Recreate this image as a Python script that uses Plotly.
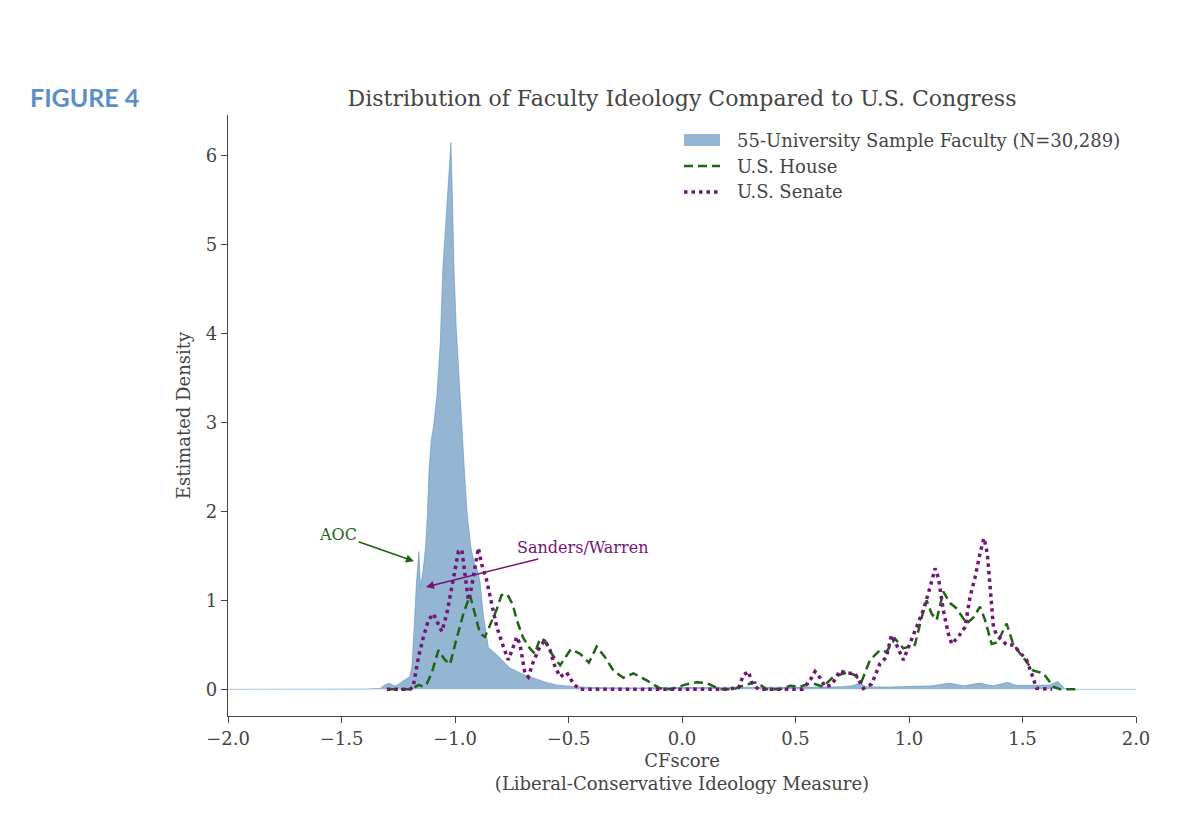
import plotly.graph_objects as go

# faculty density (filled)
fac_x = [-2.0, -1.6, -1.4, -1.33, -1.31, -1.29, -1.275, -1.26, -1.245, -1.23, -1.215, -1.2,
         -1.19, -1.18, -1.17, -1.159, -1.152, -1.14, -1.13, -1.122, -1.115, -1.105, -1.095,
         -1.08, -1.065, -1.054, -1.045, -1.035, -1.025, -1.018, -1.012, -1.004, -0.995,
         -0.985, -0.975, -0.965, -0.956, -0.946, -0.93, -0.915, -0.902, -0.89, -0.875,
         -0.853, -0.816, -0.758, -0.70, -0.655, -0.60, -0.552, -0.47, -0.39, -0.3, -0.2,
         -0.1, 0.0, 0.1, 0.2, 0.3, 0.4, 0.5, 0.6, 0.7, 0.75, 0.784, 0.81, 0.9, 1.0, 1.1,
         1.18, 1.24, 1.31, 1.37, 1.436, 1.47, 1.55, 1.62, 1.656, 1.685, 1.75, 1.85, 2.0]
fac_y = [0.0, 0.0, 0.003, 0.01, 0.05, 0.07, 0.05, 0.04, 0.07, 0.1, 0.12, 0.14,
         0.25, 0.7, 1.2, 1.55, 1.15, 1.35, 1.6, 1.95, 2.45, 2.8, 2.95,
         3.3, 3.9, 4.72, 5.1, 5.5, 5.9, 6.15, 5.6, 4.72, 4.1,
         3.6, 3.1, 2.75, 2.35, 1.97, 1.6, 1.42, 1.35, 1.22, 0.84,
         0.47, 0.39, 0.24, 0.17, 0.13, 0.08, 0.05, 0.03, 0.02, 0.015, 0.015,
         0.02, 0.02, 0.02, 0.02, 0.02, 0.02, 0.02, 0.025, 0.03, 0.04, 0.07, 0.03, 0.025, 0.03, 0.04,
         0.07, 0.04, 0.07, 0.04, 0.08, 0.045, 0.045, 0.05, 0.09, 0.01, 0.0, 0.0, 0.0]

# house
house_x = [-1.30, -1.25, -1.20, -1.18, -1.16, -1.14, -1.125, -1.103, -1.073, -1.044, -1.022,
           -0.992, -0.963, -0.934, -0.912, -0.89, -0.868, -0.838, -0.816, -0.795, -0.77,
           -0.745, -0.728, -0.70, -0.67, -0.648, -0.626, -0.604, -0.574, -0.537, -0.51,
           -0.49, -0.449, -0.41, -0.376, -0.339, -0.302, -0.258, -0.214, -0.155, -0.097,
           -0.05, 0.01, 0.065, 0.11, 0.167, 0.225, 0.278, 0.329, 0.373, 0.43, 0.476, 0.52,
           0.571, 0.622, 0.667, 0.726, 0.762, 0.79, 0.828, 0.872, 0.9, 0.938, 0.975, 1.026,
           1.056, 1.078, 1.1, 1.122, 1.151, 1.181, 1.21, 1.254, 1.284, 1.313, 1.335, 1.364,
           1.39, 1.43, 1.459, 1.49, 1.548, 1.592, 1.636, 1.666, 1.75]
house_y = [0.0, 0.0, 0.0, 0.02, 0.05, 0.03, 0.06, 0.18, 0.44, 0.33, 0.28,
           0.58, 0.85, 1.06, 0.85, 0.63, 0.59, 0.78, 0.9, 1.06, 1.07,
           0.95, 0.78, 0.58, 0.46, 0.4, 0.57, 0.55, 0.4, 0.27, 0.38,
           0.45, 0.4, 0.3, 0.48, 0.36, 0.21, 0.13, 0.18, 0.1, 0.01,
           0.0, 0.05, 0.08, 0.07, 0.0, 0.0, 0.05, 0.08, 0.0, 0.0, 0.04, 0.03,
           0.07, 0.03, 0.14, 0.19, 0.16, 0.08, 0.33, 0.44, 0.42, 0.57, 0.46, 0.5,
           0.81, 1.0, 0.85, 0.78, 1.1, 0.97, 0.91, 0.74, 0.81, 0.93, 0.78, 0.51,
           0.53, 0.74, 0.51, 0.4, 0.21, 0.18, 0.03, 0.0, 0.0]

# senate
senate_x = [-1.30, -1.25, -1.20, -1.185, -1.176, -1.161, -1.139, -1.117, -1.095, -1.073,
            -1.058, -1.036, -1.007, -0.985, -0.97, -0.956, -0.941, -0.927, -0.912, -0.897,
            -0.883, -0.861, -0.838, -0.816, -0.787, -0.765, -0.743, -0.728, -0.714, -0.692,
            -0.677, -0.655, -0.626, -0.604, -0.581, -0.559, -0.537, -0.508, -0.478, -0.449,
            0.2, 0.25, 0.27, 0.293, 0.307, 0.336, 0.53, 0.564, 0.586, 0.608, 0.63, 0.66,
            0.696, 0.726, 0.762, 0.799, 0.836, 0.872, 0.9, 0.923, 0.945, 0.975, 1.019,
            1.063, 1.093, 1.115, 1.13, 1.151, 1.173, 1.188, 1.217, 1.247, 1.269, 1.291,
            1.313, 1.33, 1.345, 1.357, 1.372, 1.386, 1.408, 1.43, 1.459, 1.489, 1.518,
            1.54, 1.562, 1.63]
senate_y = [0.0, 0.0, 0.0, 0.02, 0.14, 0.36, 0.59, 0.78, 0.85, 0.74,
            0.65, 0.85, 1.26, 1.55, 1.57, 1.26, 1.0, 1.15, 1.38, 1.59,
            1.41, 1.23, 0.96, 0.7, 0.48, 0.33, 0.48, 0.59, 0.51, 0.18,
            0.14, 0.31, 0.48, 0.55, 0.44, 0.25, 0.14, 0.19, 0.06, 0.0,
            0.0, 0.02, 0.16, 0.2, 0.08, 0.0, 0.0, 0.1, 0.2, 0.13, 0.03, 0.05,
            0.21, 0.18, 0.18, 0.01, 0.06, 0.29, 0.36, 0.61, 0.5, 0.33, 0.61,
            0.89, 1.15, 1.36, 1.25, 0.89, 0.63, 0.51, 0.59, 0.7, 1.04, 1.26,
            1.53, 1.70, 1.53, 1.15, 0.7, 0.61, 0.55, 0.5, 0.5, 0.42, 0.33,
            0.18, 0.01, 0.0]

x_ticks = [-2.0, -1.5, -1.0, -0.5, 0.0, 0.5, 1.0, 1.5, 2.0]
x_tick_text = ["\u22122.0", "\u22121.5", "\u22121.0", "\u22120.5", "0.0", "0.5", "1.0", "1.5", "2.0"]
y_ticks = [0, 1, 2, 3, 4, 5, 6]

legend_names = ["55-University Sample Faculty (N=30,289)", "U.S. House", "U.S. Senate"]

serif = "DejaVu Serif"
grey = "#444444"
blue_fill = "rgba(70,130,180,0.58)"
green = "#1e6414"
purple = "#741478"

fig = go.Figure()

fig.add_trace(go.Scatter(
    x=fac_x, y=fac_y, mode="lines", fill="tozeroy",
    fillcolor=blue_fill,
    line=dict(color="rgba(70,130,180,0.45)", width=1),
    name=legend_names[0]))

fig.add_trace(go.Scatter(
    x=house_x, y=house_y, mode="lines",
    line=dict(color=green, width=2.5, dash="9px,5px"),
    name=legend_names[1]))

fig.add_trace(go.Scatter(
    x=senate_x, y=senate_y, mode="lines",
    line=dict(color=purple, width=3.5, dash="3.5px,4px"),
    name=legend_names[2]))

# arrows with labels
fig.add_annotation(x=-1.181, y=1.44, ax=-1.515, ay=1.74, xref="x", yref="y",
                   axref="x", ayref="y", text="AOC", showarrow=True,
                   arrowhead=2, arrowsize=1, arrowwidth=1.6, arrowcolor=green,
                   font=dict(family=serif, size=16, color=green))
fig.add_annotation(x=-1.128, y=1.15, ax=-0.44, ay=1.59, xref="x", yref="y",
                   axref="x", ayref="y", text="Sanders/Warren", showarrow=True,
                   arrowhead=2, arrowsize=1, arrowwidth=1.6, arrowcolor=purple,
                   font=dict(family=serif, size=16, color=purple))

fig.add_annotation(x=-0.2203, y=1.03, xref="paper", yref="paper", xanchor="left",
                   yanchor="middle", showarrow=False, text="<b>FIGURE 4</b>",
                   font=dict(family="Lato", size=25, color="#5b8ec4"))

# hand-made legend (box patch like matplotlib)
lx0, lx1, ltx = 0.5022, 0.5419, 0.5584
ly = [0.9584, 0.9151, 0.8719]
fig.add_shape(type="rect", xref="paper", yref="paper", x0=lx0, x1=lx1,
              y0=ly[0] - 0.010, y1=ly[0] + 0.010, fillcolor=blue_fill, line=dict(width=0))
fig.add_shape(type="line", xref="paper", yref="paper", x0=lx0, x1=lx1, y0=ly[1], y1=ly[1],
              line=dict(color=green, width=2.5, dash="9px,5px"))
fig.add_shape(type="line", xref="paper", yref="paper", x0=lx0, x1=lx1, y0=ly[2], y1=ly[2],
              line=dict(color=purple, width=3.5, dash="3.5px,4px"))
for name, yy in zip(legend_names, ly):
    fig.add_annotation(x=ltx, y=yy, xref="paper", yref="paper", xanchor="left",
                       yanchor="middle", showarrow=False, text=name,
                       font=dict(family=serif, size=18, color=grey))

fig.update_layout(
    width=1200, height=828,
    margin=dict(l=220, r=72, t=107, b=120),
    paper_bgcolor="white", plot_bgcolor="white",
    font=dict(family=serif, size=18, color=grey),
    title=dict(text="Distribution of Faculty Ideology Compared to U.S. Congress",
               x=0.5, xref="paper", xanchor="center", y=1 - 90 / 828,
               yanchor="middle", font=dict(family=serif, size=22, color=grey)),
    showlegend=False,
)

fig.update_xaxes(range=[-2, 2], tickvals=x_ticks, ticktext=x_tick_text,
                 showgrid=False, zeroline=False, showline=True, linecolor=grey,
                 linewidth=1.2, ticks="outside", ticklen=6, tickcolor=grey,
                 title=dict(text="CFscore<br>(Liberal-Conservative Ideology Measure)",
                            standoff=6, font=dict(size=18)))
fig.update_yaxes(range=[-0.3, 6.46], tickvals=y_ticks,
                 showgrid=False, zeroline=False, showline=True, linecolor=grey,
                 linewidth=1.2, ticks="outside", ticklen=6, tickcolor=grey,
                 title=dict(text="Estimated Density", standoff=10, font=dict(size=18)))

fig.write_html("out.html")
